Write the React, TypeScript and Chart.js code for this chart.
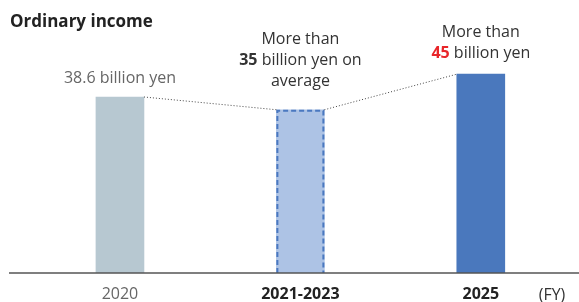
import React, { useEffect, useRef } from 'react';
import { Chart, registerables } from 'chart.js';

Chart.register(...registerables);

const categories = ['2020', '2021-2023', '2025'];
const values = [38.6, 35.8, 43.6];
const titleText = 'Ordinary income';
const unitText = '(FY)';

type Seg = { t: string; bold?: boolean; red?: boolean };
const label2020: Seg[][] = [[{ t: '38.6 billion yen' }]];
const labelAvg: Seg[][] = [
  [{ t: 'More than' }],
  [{ t: '35', bold: true }, { t: ' billion yen on' }],
  [{ t: 'average' }],
];
const label2025: Seg[][] = [
  [{ t: 'More than' }],
  [{ t: '45', bold: true, red: true }, { t: ' billion yen' }],
];
const barLabels = [label2020, labelAvg, label2025];

const FONT = '"Open Sans", "Noto Sans", sans-serif';
const barColors = ['#b7c8d1', '#adc3e5', '#4a78bd'];
const labelColors = ['#666666', '#333333', '#333333'];
const labelGap = [19, 28, 21];
const DASHED_INDEX = 1;

const overlay = {
  id: 'overlay',
  afterDatasetsDraw(chart: any) {
    const ctx = chart.ctx;
    const meta = chart.getDatasetMeta(0);
    const bars = meta.data.map((b: any) => {
      const p = b.getProps(['x', 'y', 'base', 'width'], true);
      return { l: p.x - p.width / 2, r: p.x + p.width / 2, x: p.x, y: p.y, base: p.base };
    });
    ctx.save();
    // dashed border
    const d = bars[DASHED_INDEX];
    ctx.strokeStyle = '#4a78c0';
    ctx.lineWidth = 2;
    ctx.setLineDash([5, 3]);
    ctx.beginPath();
    ctx.moveTo(d.l + 1, d.base);
    ctx.lineTo(d.l + 1, d.y + 1);
    ctx.lineTo(d.r - 1, d.y + 1);
    ctx.lineTo(d.r - 1, d.base);
    ctx.stroke();
    // dotted connectors
    ctx.strokeStyle = '#444';
    ctx.lineWidth = 1;
    ctx.setLineDash([1, 2]);
    for (let i = 0; i < bars.length - 1; i++) {
      ctx.beginPath();
      ctx.moveTo(bars[i].r, bars[i].y);
      ctx.lineTo(bars[i + 1].l, bars[i + 1].y);
      ctx.stroke();
    }
    ctx.setLineDash([]);
    // baseline
    ctx.strokeStyle = '#555';
    ctx.lineWidth = 1.5;
    ctx.beginPath();
    ctx.moveTo(9, chart.chartArea.bottom);
    ctx.lineTo(chart.width, chart.chartArea.bottom);
    ctx.stroke();
    // labels
    ctx.textBaseline = 'middle';
    ctx.textAlign = 'left';
    const lh = 21;
    barLabels.forEach((lines, i) => {
      const b = bars[i];
      const n = lines.length;
      lines.forEach((segs, li) => {
        const y = b.y - labelGap[i] - (n - 1 - li) * lh;
        let total = 0;
        const widths = segs.map((s) => {
          ctx.font = `${s.bold ? 'bold ' : ''}16px ${FONT}`;
          const w = ctx.measureText(s.t).width;
          total += w;
          return w;
        });
        let x = b.x - total / 2;
        segs.forEach((s, si) => {
          ctx.font = `${s.bold ? 'bold ' : ''}16px ${FONT}`;
          ctx.fillStyle = s.red ? '#e8262a' : labelColors[i];
          ctx.fillText(s.t, x, y);
          x += widths[si];
        });
      });
    });
    // title
    ctx.font = `bold 17px ${FONT}`;
    ctx.fillStyle = '#222';
    ctx.fillText(titleText, 10, 22);
    // unit
    ctx.font = `16px ${FONT}`;
    ctx.fillStyle = '#333';
    ctx.textAlign = 'center';
    ctx.fillText(unitText, 552, 295);
    ctx.restore();
  },
};

export default function App() {
  const ref = useRef<HTMLCanvasElement>(null);
  useEffect(() => {
    document.body.style.margin = '0';
    const chart = new Chart(ref.current!, {
      type: 'bar',
      data: {
        labels: categories,
        datasets: [
          {
            data: values,
            backgroundColor: barColors,
            borderWidth: 0,
            barThickness: 48,
          },
        ],
      },
      options: {
        responsive: false,
        animation: false,
        layout: { padding: { left: 29.75, right: 8, top: 45, bottom: 0 } },
        plugins: { legend: { display: false }, tooltip: { enabled: false }, title: { display: false } },
        scales: {
          x: {
            offset: true,
            grid: { display: false, drawTicks: false },
            border: { display: false },
            ticks: {
              padding: 12,
              font: (c: any) => ({ family: FONT, size: 16, weight: c.index === 0 ? 'normal' : 'bold' }),
              color: (c: any) => (c.index === 0 ? '#666' : '#222'),
            },
            afterFit: (s: any) => {
              s.height = 29;
            },
          },
          y: { display: false, min: 0, max: 50 },
        },
      },
      plugins: [overlay],
    });
    return () => chart.destroy();
  }, []);
  return <canvas ref={ref} width={579} height={302} style={{ display: 'block' }} />;
}
